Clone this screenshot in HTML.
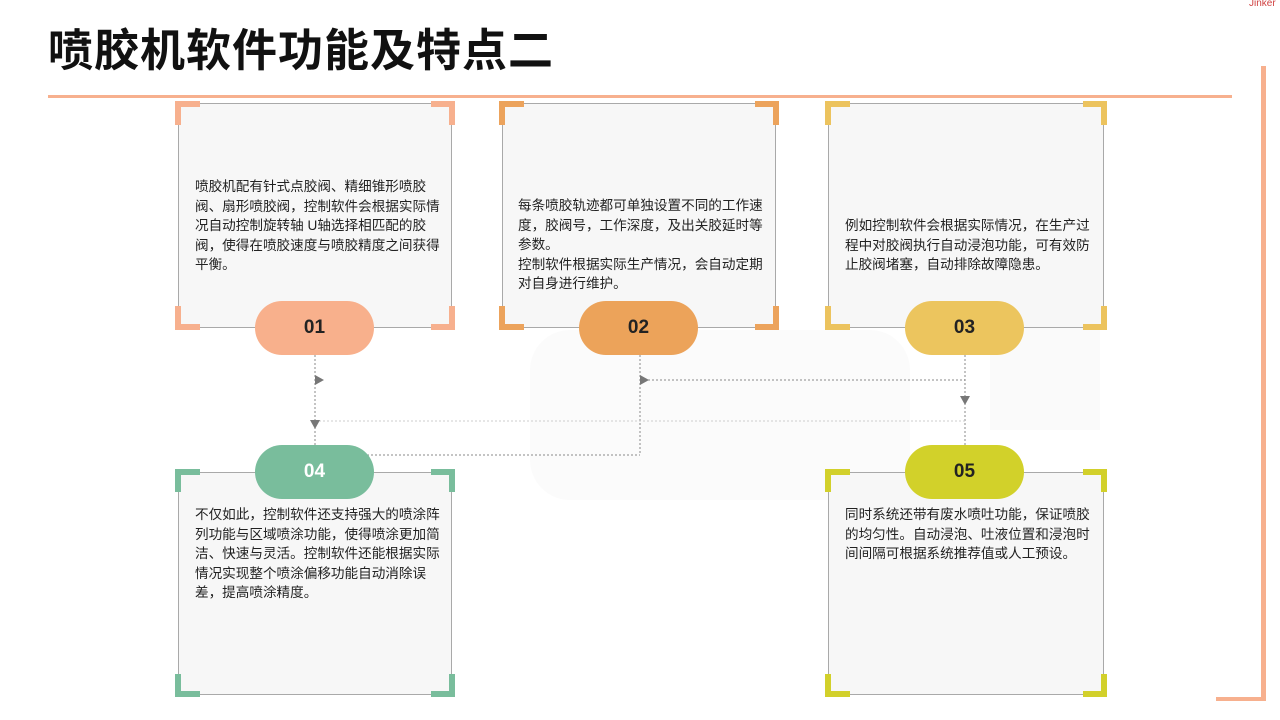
<!DOCTYPE html>
<html><head><meta charset="utf-8"><style>
*{margin:0;padding:0;box-sizing:border-box}
body{width:1280px;height:720px;position:relative;overflow:hidden;background:#fff;font-family:"Liberation Sans","Noto Sans CJK SC",sans-serif}
.abs{position:absolute}
.box{position:absolute;border:1.5px solid #a9a9a9;background:rgba(246,246,246,0.9)}
.txt{position:absolute;font-size:13.6px;line-height:19.5px;color:#222;width:248px}
.pill{position:absolute;width:119px;height:54px;border-radius:27px;font-size:19px;font-weight:bold;text-align:center;line-height:54px;color:#222}
</style></head><body>
<div class="abs" style="left:990px;top:130px;width:110px;height:300px;background:#fafafa"></div>
<div class="abs" style="left:530px;top:330px;width:380px;height:170px;background:#fbfbfb;border-radius:40px"></div>
<div class="abs" style="left:48px;top:14px;font-size:45px;font-weight:bold;color:#111;letter-spacing:1px">喷胶机软件功能及特点二</div>
<div class="abs" style="left:1249px;top:-2px;font-size:10px;color:#d04040">Jinker</div>
<div class="abs" style="left:48px;top:95px;width:1184px;height:3px;background:#f7b08e"></div>
<div class="abs" style="left:1261px;top:66px;width:5px;height:635px;background:#f7b08e"></div>
<div class="abs" style="left:1216px;top:697px;width:50px;height:4px;background:#f7b08e"></div>

<svg class="abs" style="left:0;top:0" width="1280" height="720">
<g stroke="#888" stroke-width="1" stroke-dasharray="2,2" fill="none">
<line x1="315" y1="355" x2="315" y2="455"/>
<line x1="315" y1="455" x2="640" y2="455"/>
<line x1="640" y1="355" x2="640" y2="455"/>
<line x1="640" y1="380" x2="965" y2="380"/>
<line x1="965" y1="355" x2="965" y2="446"/>
<line x1="315" y1="421" x2="965" y2="421" stroke="#ccc"/>
</g>
<g fill="#777">
<polygon points="315,375 324,380 315,385"/>
<polygon points="640,375 649,380 640,385"/>
<polygon points="310,420 320,420 315,429"/>
<polygon points="960,396 970,396 965,405"/>
</g>
</svg>

<div class="box" style="left:178px;top:103px;width:274px;height:225px"></div>
<div class="txt" style="left:195px;top:177px">喷胶机配有针式点胶阀、精细锥形喷胶阀、扇形喷胶阀，控制软件会根据实际情况自动控制旋转轴 U轴选择相匹配的胶阀，使得在喷胶速度与喷胶精度之间获得平衡。</div>
<div class="box" style="left:502px;top:103px;width:274px;height:225px"></div>
<div class="txt" style="left:518px;top:196px">每条喷胶轨迹都可单独设置不同的工作速度，胶阀号，工作深度，及出关胶延时等参数。<br>控制软件根据实际生产情况，会自动定期对自身进行维护。</div>
<div class="box" style="left:828px;top:103px;width:276px;height:225px"></div>
<div class="txt" style="left:845px;top:216px;width:250px">例如控制软件会根据实际情况，在生产过程中对胶阀执行自动浸泡功能，可有效防止胶阀堵塞，自动排除故障隐患。</div>
<div class="box" style="left:178px;top:472px;width:274px;height:223px"></div>
<div class="txt" style="left:195px;top:505px">不仅如此，控制软件还支持强大的喷涂阵列功能与区域喷涂功能，使得喷涂更加简洁、快速与灵活。控制软件还能根据实际情况实现整个喷涂偏移功能自动消除误差，提高喷涂精度。</div>
<div class="box" style="left:828px;top:472px;width:276px;height:223px"></div>
<div class="txt" style="left:845px;top:505px">同时系统还带有废水喷吐功能，保证喷胶的均匀性。自动浸泡、吐液位置和浸泡时间间隔可根据系统推荐值或人工预设。</div>

<svg class="abs" style="left:0;top:0" width="1280" height="720">
<g fill="none" stroke-width="6">
<g stroke="#f7b08e"><path d="M178,125V104H200"/><path d="M431,104H452V125"/><path d="M178,306V327H200"/><path d="M431,327H452V306"/></g>
<g stroke="#eca35c"><path d="M502,125V104H524"/><path d="M755,104H776V125"/><path d="M502,306V327H524"/><path d="M755,327H776V306"/></g>
<g stroke="#ecc35e"><path d="M828,125V104H850"/><path d="M1083,104H1104V125"/><path d="M828,306V327H850"/><path d="M1083,327H1104V306"/></g>
<g stroke="#79bd9c"><path d="M178,492V472H200"/><path d="M431,472H452V492"/><path d="M178,674V694H200"/><path d="M431,694H452V674"/></g>
<g stroke="#d2d02b"><path d="M828,492V472H850"/><path d="M1083,472H1104V492"/><path d="M828,674V694H850"/><path d="M1083,694H1104V674"/></g>
</g>
</svg>

<div class="pill" style="left:255px;top:301px;background:#f8b08c">01</div>
<div class="pill" style="left:579px;top:301px;background:#eca35a">02</div>
<div class="pill" style="left:905px;top:301px;background:#ecc55e">03</div>
<div class="pill" style="left:255px;top:445px;background:#79bd9c;color:#fff">04</div>
<div class="pill" style="left:905px;top:445px;background:#d2d12a">05</div>
</body></html>
